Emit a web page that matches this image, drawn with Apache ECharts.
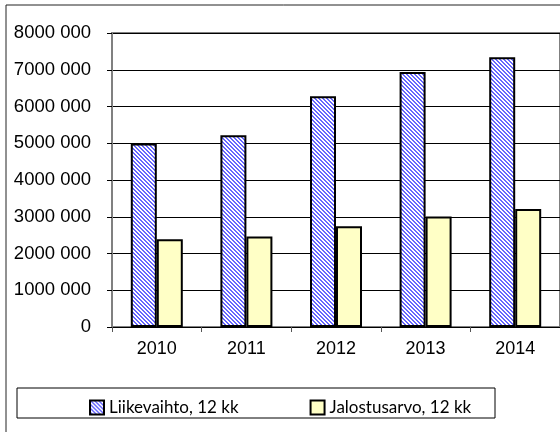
<!DOCTYPE html>
<html>
<head>
<meta charset="utf-8">
<script src="https://cdn.jsdelivr.net/npm/echarts@6/dist/echarts.min.js"></script>
<style>
  body { margin: 0; background: #fff; }
  #main { width: 560px; height: 432px; }
</style>
</head>
<body>
<div id="main"></div>
<script>
// data
var years = ["2010", "2011", "2012", "2013", "2014"];
var liikevaihto = [4990000, 5220000, 6280000, 6940000, 7340000];
var jalostusarvo = [2390000, 2460000, 2740000, 3010000, 3210000];
var seriesNames = ["Liikevaihto, 12 kk", "Jalostusarvo, 12 kk"];
var yTicks = [0, 1000000, 2000000, 3000000, 4000000, 5000000, 6000000, 7000000, 8000000];
var yTickLabels = ["0", "1000 000", "2000 000", "3000 000", "4000 000", "5000 000", "6000 000", "7000 000", "8000 000"];

// diagonal stripe fill for the first series
function stripes() {
  var c = document.createElement("canvas");
  c.width = 4;
  c.height = 4;
  var ctx = c.getContext("2d");
  ctx.fillStyle = "#ffffff";
  ctx.fillRect(0, 0, 4, 4);
  ctx.fillStyle = "#6666ff";
  for (var y = 0; y < 4; y++) {
    for (var x = 0; x < 4; x++) {
      var d = ((x - y) % 4 + 4) % 4;
      if (d == 0 || d == 1) ctx.fillRect(x, y, 1, 1);
    }
  }
  return c;
}

var myChart = echarts.init(document.getElementById("main"));
var option = {
  animation: false,
  backgroundColor: "#ffffff",
  textStyle: { fontFamily: "Liberation Sans" },
  grid: {
    left: 112,
    top: 33,
    width: 450,
    height: 294,
    show: true,
    borderColor: "#808080",
    borderWidth: 2
  },
  graphic: [
    {
      type: "rect",
      shape: { x: 6, y: 5, width: 620, height: 500 },
      style: { fill: null, stroke: "#222", lineWidth: 1 },
      silent: true
    },
    {
      type: "rect",
      shape: { x: 17, y: 388, width: 478, height: 30 },
      style: { fill: null, stroke: "#000", lineWidth: 1 },
      silent: true
    }
  ],
  legend: {
    left: 84,
    top: 394,
    itemWidth: 14,
    itemHeight: 14,
    itemGap: 71,
    icon: "rect",
    textStyle: { fontFamily: "Lato", fontSize: 17, color: "#000" },
    data: seriesNames
  },
  xAxis: {
    type: "category",
    data: years,
    axisLine: { lineStyle: { color: "#000", width: 1 } },
    axisTick: { show: true, length: 5, lineStyle: { color: "#555" } },
    axisLabel: { color: "#000", fontSize: 18, margin: 13 }
  },
  yAxis: {
    type: "value",
    min: 0,
    max: 8000000,
    interval: 1000000,
    axisLine: { show: true, lineStyle: { color: "#808080", width: 2 } },
    axisTick: { show: true, length: 5, lineStyle: { color: "#000" } },
    splitLine: { lineStyle: { color: "#000", width: 1 } },
    axisLabel: {
      color: "#000",
      fontSize: 18.5,
      margin: 21,
      formatter: function (v) {
        return yTickLabels[yTicks.indexOf(v)];
      }
    }
  },
  series: [
    {
      name: seriesNames[0],
      type: "bar",
      data: liikevaihto,
      barWidth: 26,
      barGap: "0%",
      itemStyle: {
        color: { image: stripes(), repeat: "repeat" },
        borderColor: "#000",
        borderWidth: 2
      }
    },
    {
      name: seriesNames[1],
      type: "bar",
      data: jalostusarvo,
      barWidth: 26,
      barGap: "0%",
      itemStyle: {
        color: "#ffffc6",
        borderColor: "#000",
        borderWidth: 2
      }
    }
  ]
};
myChart.setOption(option);
</script>
</body>
</html>
